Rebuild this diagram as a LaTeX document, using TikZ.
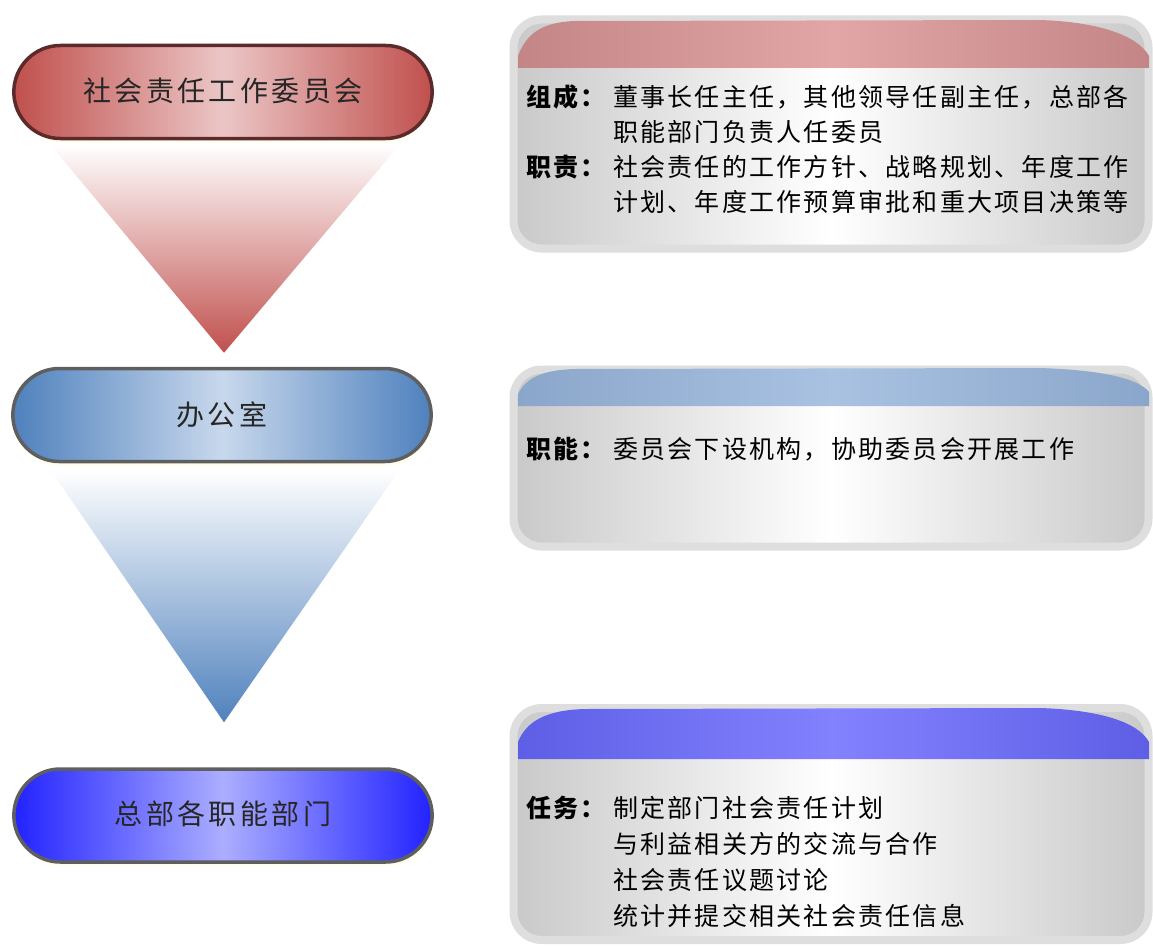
\documentclass[tikz,border=0pt]{standalone}
\usepackage{fontspec}
\newfontfamily\cjk[LetterSpace=9]{Noto Sans CJK SC}
\newfontfamily\cjkwide[LetterSpace=12]{Noto Sans CJK SC}
\usetikzlibrary{positioning,shapes.misc,shadows}

\definecolor{wred}{HTML}{C0504D}
\definecolor{wredlt}{HTML}{EBC6C6}
\definecolor{wrim}{HTML}{5C2A2A}
\definecolor{bgblue}{HTML}{4F81BD}
\definecolor{bgblt}{HTML}{C8D8EC}
\definecolor{zbblue}{HTML}{2222FF}
\definecolor{zbblt}{HTML}{ABAEFF}
\definecolor{pillrim}{HTML}{5F5F5F}
\definecolor{cardgray}{HTML}{C9C9C9}
\definecolor{cardrim}{HTML}{DEDEDE}
\definecolor{bandred}{HTML}{C48587}
\definecolor{bandredlt}{HTML}{E2A6A6}
\definecolor{bandblue}{HTML}{8AA6CA}
\definecolor{bandbluelt}{HTML}{A9C2E2}
\definecolor{bandviolet}{HTML}{5E5EE6}
\definecolor{bandvioletlt}{HTML}{8282FF}

\begin{document}
\begin{tikzpicture}[x=1pt,y=-1pt
		,pill/.style={rounded rectangle, minimum width=425pt, minimum height=93pt, line width=3.5pt
			,font=\cjkwide\fontsize{28}{30}\selectfont, text=black!85
			,drop shadow={fill=yellow!15, shadow xshift=1pt, shadow yshift=-4pt}}
		,card/.style={rectangle, rounded corners=28pt, minimum width=635pt, draw=cardrim, line width=8pt
			,left color=cardgray, right color=cardgray, middle color=white}
		,lab/.style={anchor=west, inner sep=0pt, font=\cjk\bfseries\fontsize{25}{27}\selectfont}
		,txt/.style={anchor=west, inner sep=0pt, font=\cjk\fontsize{25}{27}\selectfont}
	]
	\useasboundingbox (0,0) rectangle (1153,947);

	% right cards
	\node [card, minimum height=229pt] (c1) at (831,134) {};
	\node [card, minimum height=177pt] (c2) at (831,458) {};
	\node [card, minimum height=232pt] (c3) at (831,824) {};

	\shade [left color=bandred, right color=bandred, middle color=bandredlt]
		(518,68) -- (518,56) .. controls (526,34) and (542,22) .. (575,21) -- (1040,20)
		.. controls (1100,22) and (1138,36) .. (1149,56) -- (1149,68) -- cycle;
	\shade [left color=bandblue, right color=bandblue, middle color=bandbluelt]
		(518,406) -- (518,394) .. controls (526,378) and (542,370) .. (575,369) -- (1040,368)
		.. controls (1100,370) and (1138,378) .. (1149,392) -- (1149,406) -- cycle;
	\shade [left color=bandviolet, right color=bandviolet, middle color=bandvioletlt]
		(518,759) -- (518,742) .. controls (526,722) and (545,710) .. (585,709) -- (1040,708)
		.. controls (1100,710) and (1138,722) .. (1149,742) -- (1149,759) -- cycle;

	\node [lab] (zc) at (526,97) {组成：};
	\node [txt] (zc1) at (613,97) {董事长任主任，其他领导任副主任，总部各};
	\node [txt, below=35pt of zc1.west, anchor=west] (zc2) {职能部门负责人任委员};
	\node [lab] (zz) at (526,167) {职责：};
	\node [txt] (zz1) at (613,167) {社会责任的工作方针、战略规划、年度工作};
	\node [txt, below=35pt of zz1.west, anchor=west] (zz2) {计划、年度工作预算审批和重大项目决策等};

	\node [lab] (zn) at (526,449) {职能：};
	\node [txt] (zn1) at (613,449) {委员会下设机构，协助委员会开展工作};

	\node [lab] (rw) at (526,808) {任务：};
	\node [txt] (rw1) at (613,808) {制定部门社会责任计划};
	\node [txt, below=36pt of rw1.west, anchor=west] (rw2) {与利益相关方的交流与合作};
	\node [txt, below=36pt of rw2.west, anchor=west] (rw3) {社会责任议题讨论};
	\node [txt, below=36pt of rw3.west, anchor=west] (rw4) {统计并提交相关社会责任信息};

	% left pills
	\node [pill, draw=wrim, left color=wred, right color=wred, middle color=wredlt] (wyh) at (223,92) {\raisebox{5pt}{社会责任工作委员会}};
	\node [pill, draw=pillrim, left color=bgblue, right color=bgblue, middle color=bgblt] (bgs) at (222,415) {办公室};
	\node [pill, draw=pillrim, left color=zbblue, right color=zbblue, middle color=zbblt] (zbbm) at (223,815.5) {\raisebox{5pt}{总部各职能部门}};

	% funnels
	\shade [top color=white, bottom color=wred]
		([shift={(-173pt,-4pt)}]wyh.south) -- ([shift={(177pt,-4pt)}]wyh.south) -- ([shift={(2pt,14pt)}]bgs.north) -- cycle;
	\shade [top color=white, bottom color=bgblue]
		([shift={(-172pt,-6pt)}]bgs.south) -- ([shift={(178pt,-6pt)}]bgs.south) -- ([shift={(1pt,45pt)}]zbbm.north) -- cycle;
\end{tikzpicture}
\end{document}
